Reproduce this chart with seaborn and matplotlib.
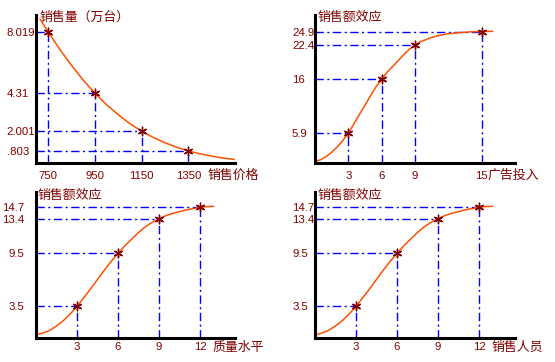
import matplotlib
matplotlib.use("Agg")
import matplotlib.pyplot as plt
import seaborn as sns

# panel 1: 销售价格 -> 销售量 (curve)
price_x = [714, 750, 800, 850, 900, 950, 1000, 1050, 1100, 1150, 1200, 1250, 1300, 1350, 1400, 1450, 1500, 1550]
price_y = [8.83, 8.019, 6.96, 5.99, 5.10, 4.31, 3.61, 3.00, 2.46, 2.001, 1.62, 1.30, 1.03, 0.803, 0.63, 0.49, 0.37, 0.28]
price_keys = [750, 950, 1150, 1350]
volume_keys = [8.019, 4.31, 2.001, 0.803]
volume_labels = ["8.019", "4.31", "2.001", ".803"]

# panel 2: 广告投入 -> 销售额效应
ad_x = [0, 0.5, 1, 1.5, 2, 2.5, 3, 3.5, 4, 4.5, 5, 5.5, 6, 6.5, 7, 7.5, 8, 8.5,
        9, 9.5, 10, 10.5, 11, 11.5, 12, 13, 14, 15, 16]
ad_y = [0.6, 0.9, 1.5, 2.3, 3.3, 4.5, 5.9, 7.6, 9.4, 11.1, 12.9, 14.6, 16.0, 17.3, 18.4, 19.5, 20.6, 21.6,
        22.4, 23.0, 23.4, 23.8, 24.1, 24.3, 24.5, 24.7, 24.85, 24.9, 24.95]
ad_keys = [3, 6, 9, 15]
ad_effect = [5.9, 16, 22.4, 24.9]

# panels 3 and 4: 质量水平 / 销售人员 -> 销售额效应
level_x = [0, 0.5, 1, 1.5, 2, 2.5, 3, 3.5, 4, 4.5, 5, 5.5, 6, 6.5, 7, 7.5, 8, 8.5,
           9, 9.5, 10, 10.5, 11, 11.5, 12, 12.5, 13]
level_y = [0.3, 0.5, 0.8, 1.3, 1.9, 2.65, 3.5, 4.5, 5.5, 6.55, 7.6, 8.6, 9.5, 10.35, 11.1, 11.85, 12.5, 13.0,
           13.4, 13.75, 14.0, 14.2, 14.4, 14.55, 14.7, 14.77, 14.8]
level_keys = [3, 6, 9, 12]
level_effect = [3.5, 9.5, 13.4, 14.7]

sns.set_style("white")
plt.rcParams["font.family"] = ["Liberation Sans", "Noto Sans CJK SC"]
CJK = ["Noto Sans CJK SC", "DejaVu Sans"]

TEXT = "#800000"
CURVE = "#ff5000"
GUIDE = "#0000ff"

W, H = 555, 362
fig = plt.figure(figsize=(W / 100, H / 100), dpi=100)


def px_axes(left, top, right, bottom):
    return fig.add_axes([left / W, 1 - bottom / H, (right - left) / W, (bottom - top) / H])


def px_text(x, y, s):
    fig.text(x / W, 1 - y / H, s, family=CJK, fontsize=9.3, color=TEXT, ha="left", va="center")


def panel(ax, cx, cy, kx, ky, xlim, ylim, ylabels, ypad, yha, xpad):
    ax.set_xlim(*xlim)
    ax.set_ylim(*ylim)
    # dash-dot guides from the axes to each key point
    for x, y in zip(kx, ky):
        ax.plot([xlim[0], x], [y, y], color=GUIDE, lw=1, ls=(0, (6, 2.5, 1.5, 2.5)), zorder=1)
        ax.plot([x, x], [ylim[0], y], color=GUIDE, lw=1, ls=(0, (6, 2.5, 1.5, 2.5)), zorder=1)
    sns.lineplot(x=cx, y=cy, ax=ax, color=CURVE, lw=1.1, zorder=2)
    sns.scatterplot(x=kx, y=ky, ax=ax, marker=(6, 2, 0), s=38, color=TEXT,
                    linewidth=1.0, zorder=3)
    ax.set_xticks(kx)
    ax.set_xticklabels([str(v) for v in kx])
    ax.set_yticks(ky)
    ax.set_yticklabels(ylabels)
    for lab in ax.get_yticklabels():
        lab.set_ha(yha)
    ax.tick_params(axis="y", length=0, pad=ypad, labelsize=8.2, labelcolor=TEXT)
    ax.tick_params(axis="x", length=0, pad=xpad, labelsize=8.2, labelcolor=TEXT)
    for side in ["top", "right"]:
        ax.spines[side].set_visible(False)
    for side in ["left", "bottom"]:
        ax.spines[side].set_linewidth(2.2)
        ax.spines[side].set_color("black")
    ax.set_xlabel("")
    ax.set_ylabel("")
    ax.patch.set_alpha(0)


ax1 = px_axes(36, 15, 235, 163)
panel(ax1, price_x, price_y, price_keys, volume_keys, (697, 1550), (0.07, 9.07),
      volume_labels, 21, "left", 5.6)
px_text(39, 17.5, "销售量（万台）")
px_text(208, 175, "销售价格")

ax2 = px_axes(315, 15, 515, 163)
panel(ax2, ad_x, ad_y, ad_keys, ad_effect, (0, 18), (0.3, 28),
      [str(v) for v in ad_effect], 16.5, "left", 5.6)
px_text(317, 17, "销售额效应")
px_text(487, 175, "广告投入")

ax3 = px_axes(36, 191.7, 235, 337.5)
panel(ax3, level_x, level_y, level_keys, level_effect, (0, 14.55), (0, 16.45),
      [str(v) for v in level_effect], 8.6, "right", 3.2)
px_text(38, 195, "销售额效应")
px_text(213, 347, "质量水平")

ax4 = px_axes(315, 191.7, 515, 337.5)
panel(ax4, level_x, level_y, level_keys, level_effect, (0, 14.63), (0, 16.45),
      [str(v) for v in level_effect], 16.5, "left", 3.2)
px_text(318, 195, "销售额效应")
px_text(491, 347, "销售人员")

fig.savefig("out.png", dpi=100, facecolor="white")
